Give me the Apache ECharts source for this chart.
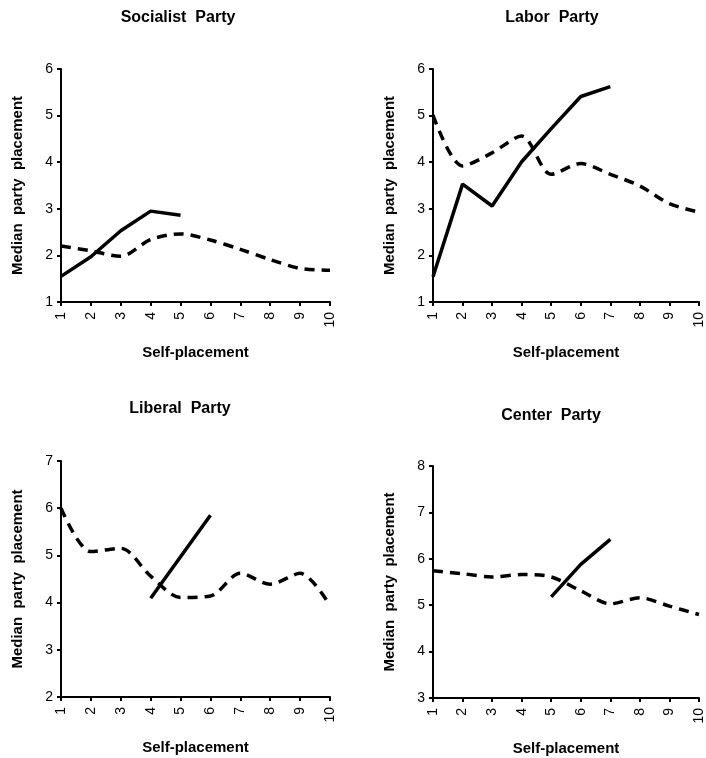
<!DOCTYPE html>
<html>
<head>
<meta charset="utf-8">
<script src="https://cdn.jsdelivr.net/npm/echarts@6/dist/echarts.min.js"></script>
<style>
  html, body { margin: 0; padding: 0; background: #fff; }
  #chart { width: 706px; height: 758px; }
</style>
</head>
<body>
<div id="chart"></div>
<script>
// self-placement scale on the x axis
const selfPlacement = [1, 2, 3, 4, 5, 6, 7, 8, 9, 10]

// Socialist Party
const socialistSolidX = [1, 2, 3, 4, 5]
const socialistSolid = [1.55, 1.97, 2.53, 2.95, 2.86]
const socialistDashed = [2.20, 2.10, 1.98, 2.34, 2.46, 2.33, 2.13, 1.91, 1.72, 1.68]

// Labor Party
const laborSolidX = [1, 2, 3, 4, 5, 6, 7]
const laborSolid = [1.54, 3.53, 3.06, 4.01, 4.72, 5.41, 5.62]
const laborDashed = [5.01, 3.92, 4.20, 4.56, 3.74, 3.97, 3.74, 3.49, 3.11, 2.93]

// Liberal Party
const liberalSolidX = [4, 5, 6]
const liberalSolid = [4.09, 4.97, 5.85]
const liberalDashed = [6.00, 5.08, 5.15, 4.56, 4.11, 4.14, 4.62, 4.39, 4.62, 3.94]

// Center Party
const centerSolidX = [5, 6, 7]
const centerSolid = [5.18, 5.88, 6.42]
const centerDashed = [5.74, 5.68, 5.61, 5.66, 5.61, 5.31, 5.03, 5.16, 4.98, 4.80]

const titles = ['Socialist  Party', 'Labor  Party', 'Liberal  Party', 'Center  Party']
const yRanges = [[1, 6], [1, 6], [2, 7], [3, 8]]

const font = '"Liberation Sans", Arial, Helvetica, sans-serif'
const pairs = (xs, ys) => xs.map((x, i) => [x, ys[i]])

const grids = [
  { left: 61, top: 69, width: 269, height: 233 },
  { left: 433, top: 69, width: 270, height: 233 },
  { left: 61, top: 461, width: 269, height: 236 },
  { left: 433, top: 466, width: 270, height: 232 }
]
const titlePos = [[178, 10], [552, 10], [180, 401], [551, 408]]

const panels = [
  [socialistSolidX, socialistSolid, socialistDashed],
  [laborSolidX, laborSolid, laborDashed],
  [liberalSolidX, liberalSolid, liberalDashed],
  [centerSolidX, centerSolid, centerDashed]
]

const axisLine = { lineStyle: { color: '#000', width: 2 } }
const axisTick = { length: 4, lineStyle: { color: '#000', width: 2 } }

const option = {
  backgroundColor: '#fff',
  animation: false,
  title: titles.map((t, i) => ({
    text: t,
    left: titlePos[i][0],
    top: titlePos[i][1],
    textAlign: 'center',
    padding: 0,
    textStyle: { fontFamily: font, fontSize: 16, fontWeight: 'bold', color: '#000' }
  })),
  grid: grids,
  xAxis: grids.map((g, i) => ({
    type: 'value',
    gridIndex: i,
    min: 1,
    max: 10,
    interval: 1,
    name: 'Self-placement',
    nameLocation: 'middle',
    nameGap: 43,
    nameTextStyle: { fontFamily: font, fontSize: 15, fontWeight: 'bold', color: '#000' },
    axisLine: axisLine,
    axisTick: axisTick,
    splitLine: { show: false },
    axisLabel: {
      rotate: 90,
      margin: 10,
      fontFamily: font,
      fontSize: 14,
      color: '#000',
      formatter: v => (selfPlacement.includes(v) ? String(v) : '')
    }
  })),
  yAxis: grids.map((g, i) => ({
    type: 'value',
    gridIndex: i,
    min: yRanges[i][0],
    max: yRanges[i][1],
    interval: 1,
    name: 'Median  party  placement',
    nameLocation: 'middle',
    nameGap: 36,
    nameTextStyle: { fontFamily: font, fontSize: 15, fontWeight: 'bold', color: '#000' },
    axisLine: { show: true, lineStyle: { color: '#000', width: 2 } },
    axisTick: { show: true, length: 4, lineStyle: { color: '#000', width: 2 } },
    splitLine: { show: false },
    axisLabel: { margin: 8, fontFamily: font, fontSize: 14, color: '#000' }
  })),
  series: []
}

panels.forEach((p, i) => {
  option.series.push({
    type: 'line',
    xAxisIndex: i,
    yAxisIndex: i,
    data: pairs(selfPlacement, p[2]),
    smooth: 0.3,
    showSymbol: false,
    lineStyle: { color: '#000', width: 3.5, type: [10, 7] }
  })
  option.series.push({
    type: 'line',
    xAxisIndex: i,
    yAxisIndex: i,
    data: pairs(p[0], p[1]),
    showSymbol: false,
    lineStyle: { color: '#000', width: 3.5, type: 'solid' }
  })
})

const chart = echarts.init(document.getElementById('chart'))
chart.setOption(option)
</script>
</body>
</html>
